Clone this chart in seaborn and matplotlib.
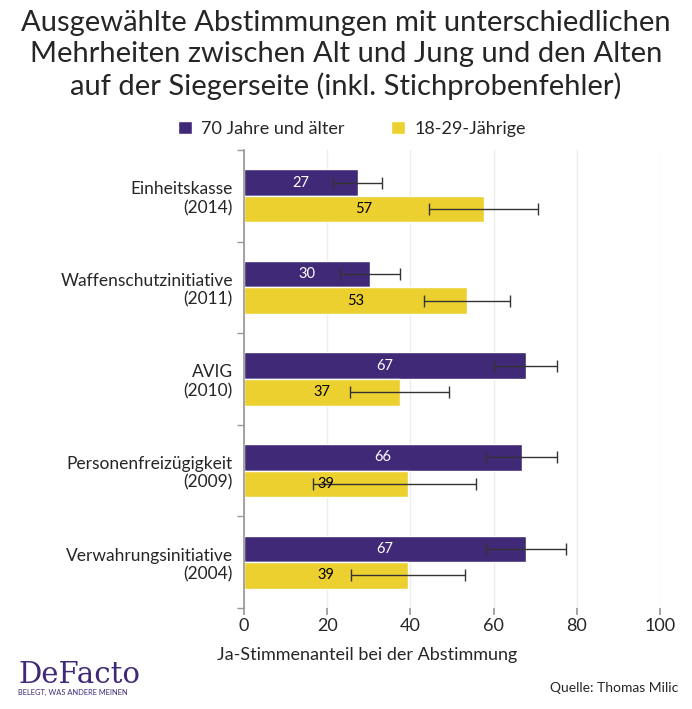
import pandas as pd
import numpy as np
import matplotlib.pyplot as plt
import seaborn as sns
from matplotlib.patches import Patch

#### Data
abstimmungen = ["Einheitskasse\n(2014)", "Waffenschutzinitiative\n(2011)", "AVIG\n(2010)",
                "Personenfreizügigkeit\n(2009)", "Verwahrungsinitiative\n(2004)"]
gruppen = ["70 Jahre und älter", "18-29-Jährige"]

alt_wert = [27.4, 30.3, 67.8, 66.8, 67.8]
alt_label = [27, 30, 67, 66, 67]
alt_lo = [21.4, 23.1, 60.1, 58.2, 58.2]
alt_hi = [33.2, 37.5, 75.2, 75.2, 77.4]

jung_wert = [57.7, 53.6, 37.5, 39.4, 39.4]
jung_label = [57, 53, 37, 39, 39]
jung_lo = [44.5, 43.3, 25.5, 16.6, 25.7]
jung_hi = [70.7, 63.9, 49.3, 55.8, 53.1]

farben = ["#402a78", "#ecd02f"]

df = pd.DataFrame({
    "Abstimmung": abstimmungen * 2,
    "Gruppe": [gruppen[0]] * 5 + [gruppen[1]] * 5,
    "Wert": alt_wert + jung_wert,
})

sns.set_theme(style="white")
plt.rcParams['font.family'] = ['Lato', 'DejaVu Sans']

fig = plt.figure(figsize=(6.92, 7.09), dpi=100)
ax = fig.add_axes([244 / 692, 1 - 608 / 709, 416 / 692, 458 / 709])

sns.barplot(data=df, x="Wert", y="Abstimmung", hue="Gruppe", orient="h",
            palette=farben, saturation=1, width=0.58, edgecolor="white", linewidth=1,
            ax=ax, legend=False, errorbar=None)

# error bars + labels
n = len(abstimmungen)
for i, (werte, labels, lo, hi, tc) in enumerate([
        (alt_wert, alt_label, alt_lo, alt_hi, "white"),
        (jung_wert, jung_label, jung_lo, jung_hi, "black")]):
    patches = ax.patches[i * n:(i + 1) * n]
    for p, w, lab, l, h in zip(patches, werte, labels, lo, hi):
        yc = p.get_y() + p.get_height() / 2
        ax.errorbar((l + h) / 2, yc, xerr=[[(h - l) / 2]], fmt="none",
                    ecolor="#333333", elinewidth=1, capsize=4, capthick=1)
        ax.text(w / 2, yc, str(lab), ha="center", va="center", color=tc, fontsize=10.5)

ax.set_xlim(0, 100)
ax.set_ylim(n - 0.5, -0.5)
ax.set_xticks([0, 20, 40, 60, 80, 100])
ax.tick_params(axis="x", labelsize=13, length=5, color="#999999", pad=2, bottom=True)
ax.xaxis.grid(True, color="#ececec", linewidth=1)
ax.set_axisbelow(True)
ax.set_yticks(range(n))
ax.set_yticklabels(abstimmungen, fontsize=12.5, linespacing=1.2)
ax.tick_params(axis="y", which="major", length=0, pad=8)
ax.set_yticks(np.arange(-0.5, n), minor=True)
ax.tick_params(axis="y", which="minor", length=5, color="#999999", left=True)
ax.set_xlabel("Ja-Stimmenanteil bei der Abstimmung", fontsize=13)
ax.xaxis.set_label_coords((367 - 244) / 416, -(647 - 608) / 458)
ax.set_ylabel("")
for s in ["top", "right", "bottom"]:
    ax.spines[s].set_visible(False)
ax.spines["left"].set_color("#999999")

# title
fig.text(0.5, 1 - 55 / 709, "Ausgewählte Abstimmungen mit unterschiedlichen\n"
         "Mehrheiten zwischen Alt und Jung und den Alten\n"
         "auf der Siegerseite (inkl. Stichprobenfehler)",
         ha="center", va="center", fontsize=21, linespacing=1.23)

# legend
handles = [Patch(facecolor=c, label=g) for c, g in zip(farben, gruppen)]
fig.legend(handles=handles, loc="center", bbox_to_anchor=(352 / 692, 1 - 129 / 709),
           ncol=2, frameon=False, fontsize=13, handlelength=0.75, handleheight=0.75,
           handletextpad=0.5, columnspacing=2.6)

# footer
fig.text(18 / 692, 1 - 683 / 709, "DeFacto", fontsize=21, color="#402a78",
         family="DejaVu Serif", va="baseline", ha="left")
fig.text(18 / 692, 1 - 692 / 709, "BELEGT, WAS ANDERE MEINEN", fontsize=5.4,
         color="#402a78", va="center", ha="left")
fig.text(678 / 692, 1 - 688 / 709, "Quelle: Thomas Milic", fontsize=10,
         ha="right", va="center")

fig.savefig("out.png", dpi=100)
